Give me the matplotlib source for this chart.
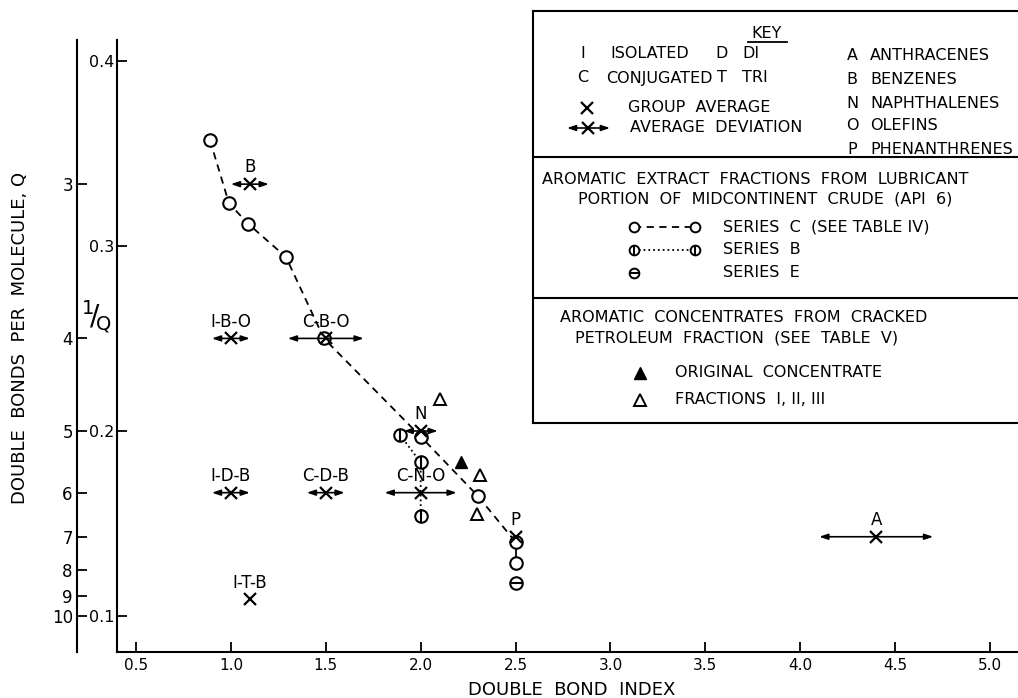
import matplotlib.pyplot as plt

# Series C - aromatic extract fractions (open circles on a dashed curve)
series_c_dbi = [0.89, 0.99, 1.09, 1.29, 1.49, 2.00, 2.30, 2.50]
series_c_q = [0.357, 0.323, 0.312, 0.294, 0.250, 0.197, 0.165, 0.140]
# bottom cut of series C, joined to the one above by a solid stub
series_c_end_dbi = [2.50, 2.50]
series_c_end_q = [0.140, 0.1285]

# Series B (barred circles, dotted) and series E (theta)
series_b_dbi = [1.89, 2.00, 2.00]
series_b_q = [0.198, 0.183, 0.154]
series_e_dbi = [2.50]
series_e_q = [0.118]

# cracked petroleum concentrates
fractions_dbi = [2.10, 2.31, 2.295]
fractions_q = [0.217, 0.176, 0.155]
original_dbi = [2.21]
original_q = [0.183]

# group averages and average deviations
group_names = ['B', 'I-B-O', 'C-B-O', 'N', 'I-D-B', 'C-D-B', 'C-N-O', 'P', 'I-T-B', 'A']
group_dbi = [1.10, 1.00, 1.50, 2.00, 1.00, 1.50, 2.00, 2.50, 1.10, 4.40]
group_q = [1 / 3, 0.25, 0.25, 0.20, 1 / 6, 1 / 6, 1 / 6, 1 / 7, 0.109, 1 / 7]
group_dev = [0.10, 0.10, 0.20, 0.09, 0.10, 0.10, 0.19, 0.0, 0.0, 0.30]

dbi_ticks = [0.5, 1.0, 1.5, 2.0, 2.5, 3.0, 3.5, 4.0, 4.5, 5.0]
q_ticks = [0.1, 0.2, 0.3, 0.4]
inv_q_ticks = [3, 4, 5, 6, 7, 8, 9, 10]

W, H = 1018, 698
fig = plt.figure(figsize=(W / 100, H / 100), dpi=100)
ax = fig.add_axes([117 / W, 1 - 652 / H, (W - 117) / W, (652 - 40) / H])
ax.set_xlim(0.4, 5.147)
ax.set_ylim(0.0806, 0.4112)
for s in ('top', 'right'):
    ax.spines[s].set_visible(False)
for s in ('left', 'bottom'):
    ax.spines[s].set_linewidth(1.5)

ax.set_xticks(dbi_ticks)
ax.set_xticklabels([f'{t:.1f}' for t in dbi_ticks])
ax.set_yticks(q_ticks)
ax.set_yticklabels([f'{t:.1f}' for t in q_ticks])
ax.tick_params(axis='x', direction='in', length=7, width=1.3, pad=4, labelsize=11)
ax.tick_params(axis='y', direction='in', length=7, width=1.3, pad=2, labelsize=11.5)

# 1/Q scale to the left of the Q scale
sec = ax.secondary_yaxis(-40 / 901, functions=(lambda q: 1 / q, lambda r: 1 / r))
sec.set_yticks(inv_q_ticks)
sec.set_yticklabels([str(t) for t in inv_q_ticks])
sec.tick_params(direction='in', length=7, width=1.3, pad=3, labelsize=12)
sec.spines['left'].set_linewidth(1.5)

circ = dict(marker='o', ms=9, mfc='white', mec='k', mew=1.5, ls='none', zorder=3)

ax.plot(series_c_dbi, series_c_q, ls=(0, (4, 3)), color='k', lw=1.3, zorder=2)
ax.plot(series_c_end_dbi, series_c_end_q, color='k', lw=1.3, zorder=2)
ax.plot(series_c_dbi + series_c_end_dbi[1:], series_c_q + series_c_end_q[1:], **circ)

ax.plot(series_b_dbi, series_b_q, ls=':', color='k', lw=1.3, zorder=2)
ax.plot(series_b_dbi, series_b_q, **circ)
ax.plot(series_b_dbi, series_b_q, marker='|', ms=9, mew=1.5, color='k', ls='none', zorder=4)

ax.plot(series_e_dbi, series_e_q, **circ)
ax.plot(series_e_dbi, series_e_q, marker='_', ms=9, mew=1.5, color='k', ls='none', zorder=4)

ax.plot(fractions_dbi, fractions_q, marker='^', ms=9, mfc='white', mec='k', mew=1.4,
        ls='none', zorder=3)
ax.plot(original_dbi, original_q, marker='^', ms=9, color='k', ls='none', zorder=3)

ax.plot(group_dbi, group_q, marker='x', ms=8, mew=1.6, color='k', ls='none', zorder=5)
for name, x, q, d in zip(group_names, group_dbi, group_q, group_dev):
    if d > 0:
        ax.annotate('', xy=(x + d, q), xytext=(x - d, q),
                    arrowprops=dict(arrowstyle='<|-|>,head_length=0.5,head_width=0.17',
                                    color='k', lw=1.2, shrinkA=0, shrinkB=0), zorder=4)
    ax.annotate(name, (x, q), xytext=(0, 12), textcoords='offset points',
                ha='center', va='center', fontsize=12)

# key box, laid out in pixel units
kx0, ky0, ky1 = 533, 11, 423
key = fig.add_axes([kx0 / W, 1 - ky1 / H, (W + 20 - kx0) / W, (ky1 - ky0) / H])
key.set_xlim(kx0, W + 20)
key.set_ylim(ky1, ky0)
key.set_xticks([])
key.set_yticks([])
key.spines['right'].set_visible(False)
for s in ('left', 'top', 'bottom'):
    key.spines[s].set_linewidth(1.5)
key.axhline(157, color='k', lw=1.5)
key.axhline(298, color='k', lw=1.5)

fs = 11.5
def ktext(x, y, s, ha='left'):
    key.text(x, y, s, fontsize=fs, ha=ha, va='center')

ktext(767, 33, 'KEY', ha='center')
key.plot([748, 787], [42, 42], color='k', lw=1.3)
ktext(583, 54, 'I', ha='center')
ktext(610, 54, 'ISOLATED')
ktext(722, 54, 'D', ha='center')
ktext(742, 54, 'DI')
ktext(583, 78, 'C', ha='center')
ktext(606, 78, 'CONJUGATED')
ktext(722, 78, 'T', ha='center')
ktext(742, 78, 'TRI')
key.plot([587], [108], marker='x', ms=8, mew=1.6, color='k')
ktext(628, 108, 'GROUP  AVERAGE')
key.annotate('', xy=(610, 128), xytext=(567, 128),
             arrowprops=dict(arrowstyle='<|-|>,head_length=0.5,head_width=0.17',
                             color='k', lw=1.2, shrinkA=0, shrinkB=0))
key.plot([588], [128], marker='x', ms=8, mew=1.6, color='k')
ktext(630, 128, 'AVERAGE  DEVIATION')
for y, letter, word in zip([56, 80, 103, 126, 150], 'ABNOP',
                           ['ANTHRACENES', 'BENZENES', 'NAPHTHALENES', 'OLEFINS',
                            'PHENANTHRENES']):
    ktext(852, y, letter, ha='center')
    ktext(870, y, word)

ktext(542, 180, 'AROMATIC  EXTRACT  FRACTIONS  FROM  LUBRICANT')
ktext(578, 199, 'PORTION  OF  MIDCONTINENT  CRUDE  (API  6)')
key.plot([634, 695], [227, 227], ls=(0, (4, 3)), lw=1.3, color='k')
key.plot([634, 695], [227, 227], marker='o', ms=7, mfc='white', mec='k', mew=1.4, ls='none')
ktext(723, 227, 'SERIES  C  (SEE TABLE IV)')
key.plot([634, 695], [250, 250], ls=':', lw=1.3, color='k')
key.plot([634, 695], [250, 250], marker='o', ms=7, mfc='white', mec='k', mew=1.4, ls='none')
key.plot([634, 695], [250, 250], marker='|', ms=7, mew=1.4, color='k', ls='none')
ktext(723, 250, 'SERIES  B')
key.plot([634], [273], marker='o', ms=7, mfc='white', mec='k', mew=1.4)
key.plot([634], [273], marker='_', ms=7, mew=1.4, color='k')
ktext(723, 273, 'SERIES  E')

ktext(560, 318, 'AROMATIC  CONCENTRATES  FROM  CRACKED')
ktext(575, 338, 'PETROLEUM  FRACTION  (SEE  TABLE  V)')
key.plot([640], [373], marker='^', ms=9, color='k')
ktext(675, 373, 'ORIGINAL  CONCENTRATE')
key.plot([640], [400], marker='^', ms=9, mfc='white', mec='k', mew=1.4)
ktext(675, 400, 'FRACTIONS  I, II, III')

fig.text(20 / W, 1 - 338 / H, 'DOUBLE  BONDS  PER  MOLECULE, Q', rotation=90,
         ha='center', va='center', fontsize=13)
fig.text(96 / W, 1 - 317 / H, r'$\mathregular{{}^{1}\!/\!{}_{Q}}$', ha='center',
         va='center', fontsize=20)
fig.text(572 / W, 1 - 690 / H, 'DOUBLE  BOND  INDEX', ha='center', va='center',
         fontsize=13)

fig.savefig('out.png', dpi=100)
